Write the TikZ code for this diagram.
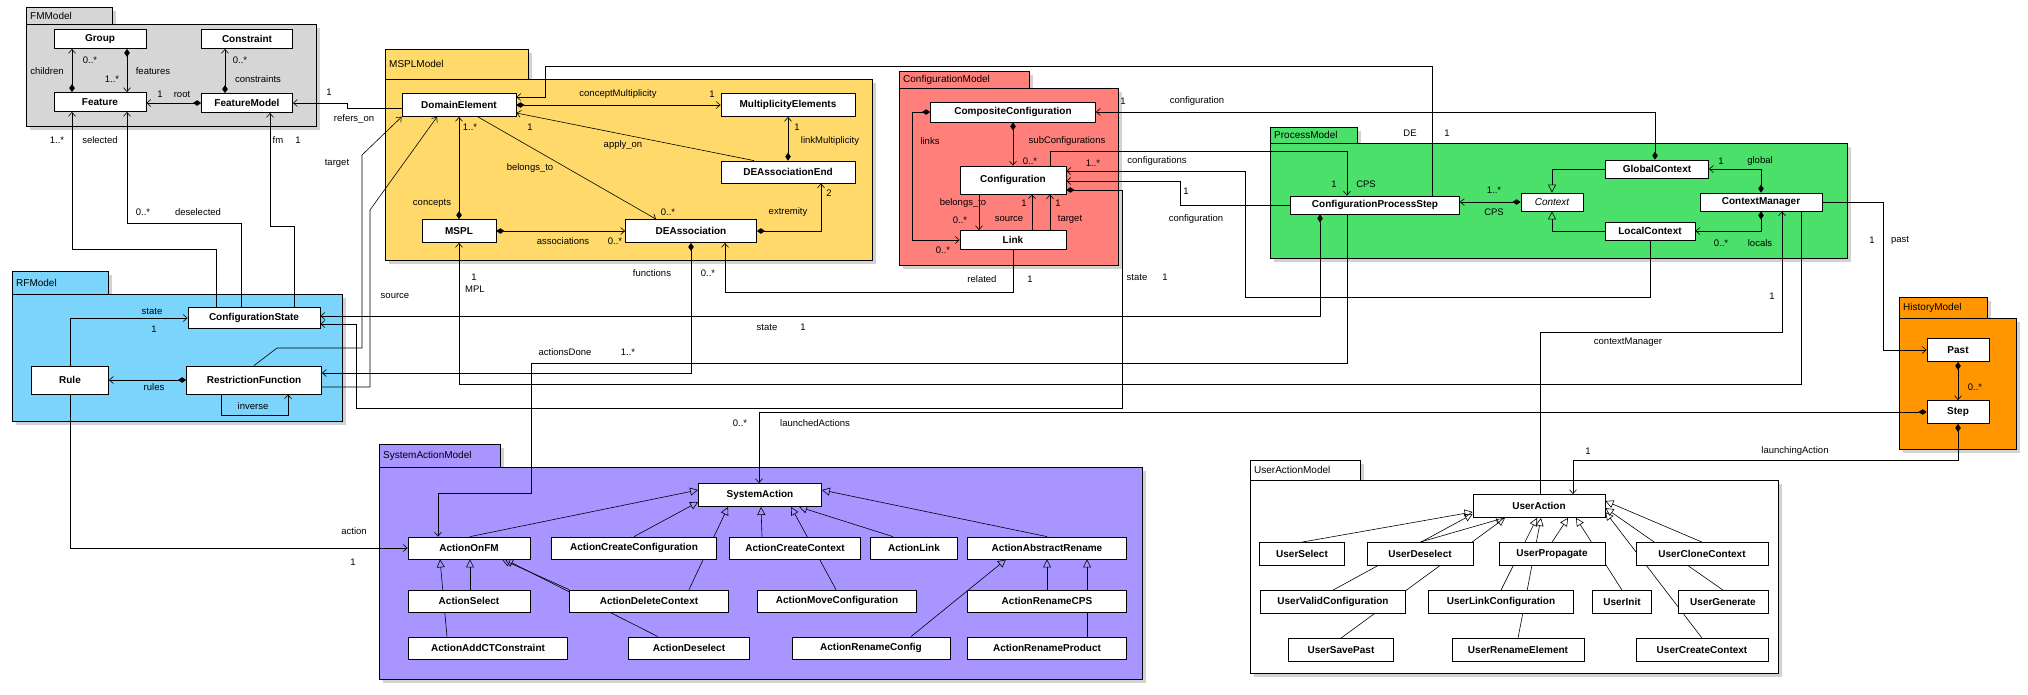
\documentclass[tikz,border=0pt]{standalone}
\usepackage{fontspec}
\setmainfont{Liberation Sans}
\usetikzlibrary{arrows.meta,shadows}
\definecolor{cFM}{HTML}{D6D6D6}
\definecolor{cMS}{HTML}{FFDA6B}
\definecolor{cCM}{HTML}{FF7F7B}
\definecolor{cPM}{HTML}{4BE06A}
\definecolor{cRF}{HTML}{7AD4FC}
\definecolor{cHM}{HTML}{FF9500}
\definecolor{cSA}{HTML}{A895FF}
\definecolor{cUA}{HTML}{FFFFFF}
\pgfdeclarelayer{bgw}\pgfdeclarelayer{pkg}\pgfdeclarelayer{edge}
\pgfsetlayers{bgw,pkg,edge,main}
\newcommand\mkpkg[8]{%
 \draw[pkgst, fill=#2] (#3,#8) rectangle (#7,#4);
 \draw[pkgst, fill=#2] (#3,#4) rectangle (#5,#6);
 \node[tabl, anchor=west] (tab#1) at (#3+3,{(#8+#4)/2}) {#1};}
\begin{document}
\begin{tikzpicture}[x=1pt,y=-1pt,
 pkgst/.style={draw=black, line width=0.8pt, drop shadow={shadow xshift=4pt,shadow yshift=-4pt,opacity=0.35}},
 tabl/.style={font=\fontsize{10}{12}\selectfont, inner sep=1pt},
 cls/.style={draw, fill=white, line width=0.8pt, minimum height=21pt, inner sep=1pt, font=\bfseries\fontsize{10}{12}\selectfont},
 lbl/.style={font=\fontsize{9.5}{11}\selectfont, inner sep=0.5pt},
 ln/.style={line width=0.6pt},
 comp/.style={ln, {Diamond[length=8pt,width=5.5pt]}-{Straight Barb[length=4pt,width=7pt]}},
 asc/.style={ln, -{Straight Barb[length=4pt,width=7pt]}},
 gen/.style={ln, -{Triangle[open,length=8pt,width=8pt]}}]
\useasboundingbox (0,0) rectangle (2028,694);
\begin{pgfonlayer}{bgw}
\fill[white] (0,0) rectangle (2028,694);
\end{pgfonlayer}
\begin{pgfonlayer}{pkg}
\mkpkg{FMModel}{cFM}{26}{24}{316}{126}{112}{7}
\mkpkg{MSPLModel}{cMS}{385}{79}{872}{260}{528}{49}
\mkpkg{ConfigurationModel}{cCM}{899}{88}{1118}{265}{1029}{71}
\mkpkg{ProcessModel}{cPM}{1270}{143}{1847}{258}{1357}{127}
\mkpkg{HistoryModel}{cHM}{1899}{318}{2016}{449}{1987}{297}
\mkpkg{RFModel}{cRF}{12}{294}{342}{421}{108}{271}
\mkpkg{SystemActionModel}{cSA}{379}{467}{1142}{679}{500}{444}
\mkpkg{UserActionModel}{cUA}{1250}{480}{1778}{673}{1360}{460}
\end{pgfonlayer}
% FM
\node[cls,minimum width=92pt,minimum height=19pt] (Group) at (100,39) {Group};
\node[cls,minimum width=91pt,minimum height=19pt] (Constraint) at (247,39) {Constraint};
\node[cls,minimum width=92pt,minimum height=19pt] (Feature) at (100,102) {Feature};
\node[cls,minimum width=91pt,minimum height=19pt] (FeatureModel) at (247,103) {FeatureModel};
% MSPL
\node[cls,minimum width=114pt,minimum height=23pt] (DomainElement) at (459,105) {DomainElement};
\node[cls,minimum width=74pt,minimum height=23pt] (MSPL) at (459,231) {MSPL};
\node[cls,minimum width=131pt,minimum height=23pt] (DEAssociation) at (691,231) {DEAssociation};
\node[cls,minimum width=134pt,minimum height=23pt] (MultiplicityElements) at (788,105) {MultiplicityElements};
\node[cls,minimum width=134pt,minimum height=22pt] (DEAssociationEnd) at (788,172) {DEAssociationEnd};
% Config
\node[cls,minimum width=165pt,minimum height=20pt] (CC) at (1013,112) {CompositeConfiguration};
\node[cls,minimum width=106pt,minimum height=28pt] (Configuration) at (1013,180) {Configuration};
\node[cls,minimum width=106pt,minimum height=19pt] (Link) at (1013,240) {Link};
% Process
\node[cls,minimum width=169pt,minimum height=18pt] (CPS) at (1375,205) {ConfigurationProcessStep};
\node[cls,minimum width=62pt,minimum height=18pt,font=\itshape\fontsize{10}{12}\selectfont] (Context) at (1552,202) {Context};
\node[cls,minimum width=103pt,minimum height=18pt] (GlobalContext) at (1657,169) {GlobalContext};
\node[cls,minimum width=90pt,minimum height=18pt] (LocalContext) at (1650,231) {LocalContext};
\node[cls,minimum width=122pt,minimum height=18pt] (ContextManager) at (1761,202) {ContextManager};
% History
\node[cls,minimum width=62pt,minimum height=23pt] (Past) at (1958,350) {Past};
\node[cls,minimum width=62pt,minimum height=23pt] (Step) at (1958,412) {Step};
% RF
\node[cls,minimum width=132pt,minimum height=21pt] (CS) at (254,318) {ConfigurationState};
\node[cls,minimum width=77pt,minimum height=28pt] (Rule) at (70,380) {Rule};
\node[cls,minimum width=135pt,minimum height=28pt] (RF) at (254,380) {RestrictionFunction};
% SA
\node[cls,minimum width=123pt,minimum height=23pt] (SystemAction) at (760,495) {SystemAction};
\node[cls,minimum width=122pt,minimum height=22pt] (ActionOnFM) at (469,548) {ActionOnFM};
\node[cls,minimum width=165pt,minimum height=22pt] (ActionCreateConfiguration) at (634,548) {ActionCreateConfiguration};
\node[cls,minimum width=131pt,minimum height=22pt] (ActionCreateContext) at (795,548) {ActionCreateContext};
\node[cls,minimum width=87pt,minimum height=22pt] (ActionLink) at (914,548) {ActionLink};
\node[cls,minimum width=159pt,minimum height=22pt] (ActionAbstractRename) at (1047,548) {ActionAbstractRename};
\node[cls,minimum width=122pt,minimum height=22pt] (ActionSelect) at (469,601) {ActionSelect};
\node[cls,minimum width=159pt,minimum height=22pt] (ActionDeleteContext) at (649,601) {ActionDeleteContext};
\node[cls,minimum width=159pt,minimum height=22pt] (ActionMoveConfiguration) at (837,601) {ActionMoveConfiguration};
\node[cls,minimum width=159pt,minimum height=22pt] (ActionRenameCPS) at (1047,601) {ActionRenameCPS};
\node[cls,minimum width=159pt,minimum height=22pt] (ActionAddCTConstraint) at (488,648) {ActionAddCTConstraint};
\node[cls,minimum width=121pt,minimum height=22pt] (ActionDeselect) at (689,648) {ActionDeselect};
\node[cls,minimum width=158pt,minimum height=22pt] (ActionRenameConfig) at (871,648) {ActionRenameConfig};
\node[cls,minimum width=159pt,minimum height=22pt] (ActionRenameProduct) at (1047,648) {ActionRenameProduct};
% UA
\node[cls,minimum width=132pt,minimum height=23pt] (UserAction) at (1539,506) {UserAction};
\node[cls,minimum width=85pt,minimum height=23pt] (UserSelect) at (1302,554) {UserSelect};
\node[cls,minimum width=106pt,minimum height=23pt] (UserDeselect) at (1420,554) {UserDeselect};
\node[cls,minimum width=106pt,minimum height=23pt] (UserPropagate) at (1552,554) {UserPropagate};
\node[cls,minimum width=132pt,minimum height=23pt] (UserCloneContext) at (1702,554) {UserCloneContext};
\node[cls,minimum width=145pt,minimum height=23pt] (UserValidConfiguration) at (1333,602) {UserValidConfiguration};
\node[cls,minimum width=145pt,minimum height=23pt] (UserLinkConfiguration) at (1501,602) {UserLinkConfiguration};
\node[cls,minimum width=59pt,minimum height=23pt] (UserInit) at (1622,602) {UserInit};
\node[cls,minimum width=90pt,minimum height=23pt] (UserGenerate) at (1723,602) {UserGenerate};
\node[cls,minimum width=105pt,minimum height=23pt] (UserSavePast) at (1341,650) {UserSavePast};
\node[cls,minimum width=132pt,minimum height=23pt] (UserRenameElement) at (1518,650) {UserRenameElement};
\node[cls,minimum width=132pt,minimum height=23pt] (UserCreateContext) at (1702,650) {UserCreateContext};

\begin{pgfonlayer}{edge}
% FM
\draw[comp] (Feature.north -| 72,0) -- (Group.south -| 72,0);
\draw[comp] (Group.south -| 127,0) -- (Feature.north -| 127,0);
\draw[comp] (FeatureModel.north -| 225,0) -- (Constraint.south -| 225,0);
\draw[comp] (FeatureModel.west) -- (Feature.east |- FeatureModel.west);
\draw[asc] (DomainElement.west |- 0,108) -- (347,108) -- (347,103) -- (FeatureModel.east);
% MSPL
\draw[comp] (DomainElement.east) -- (MultiplicityElements.west);
\draw[comp] (DEAssociationEnd.north) -- (MultiplicityElements.south);
\draw[asc] (DEAssociationEnd.north -| 754,0) -- (DomainElement.east |- 0,113);
\draw[asc] (DomainElement.south -| 478,0) -- (DEAssociation.north -| 656,0);
\draw[comp] (MSPL.north) -- (DomainElement.south);
\draw[comp] (MSPL.east) -- (DEAssociation.west);
\draw[comp] (DEAssociation.east) -| (DEAssociationEnd.south -| 821,0);
% Config
\draw[comp] (CC.west) -| (912,240) -- (Link.west);
\draw[comp] (CC.south) -- (Configuration.north);
\draw[asc] (Configuration.south -| 979,0) -- (Link.north -| 979,0);
\draw[asc] (Link.north -| 1032,0) -- (Configuration.south -| 1032,0);
\draw[asc] (Link.north -| 1050,0) -- (Configuration.south -| 1050,0);
\draw[asc] (Link.south) |- (725,292) -- (DEAssociation.south -| 725,0);
% Process
\draw[gen] (GlobalContext.west) -| (Context.north);
\draw[gen] (LocalContext.west) -| (Context.south);
\draw[comp] (Context.west) -- (CPS.east |- Context.west);
\draw[comp] (ContextManager.north) |- (GlobalContext.east);
\draw[comp] (ContextManager.south) |- (LocalContext.east);
\draw[asc] (ContextManager.east) -| (1883,350) -- (Past.west);
\draw[comp] (Past.south) -- (Step.north);
\draw[comp] (Step.south) |- (1573,460) -- (UserAction.north -| 1573,0);
\draw[comp] (Step.west) -| (SystemAction.north -| 759,0);
% cross
\draw[asc] (CS.north -| 216,0) |- (72,249) -- (Feature.south -| 72,0);
\draw[asc] (CS.north -| 241,0) |- (127,223) -- (Feature.south -| 127,0);
\draw[asc] (CS.north -| 294,0) |- (270,226) -- (FeatureModel.south -| 270,0);
\draw[asc] (Rule.north) |- (CS.west);
\draw[comp] (RF.west) -- (Rule.east);
\draw[asc] (RF.south -| 221,0) |- (288,415) -- (RF.south -| 288,0);
\draw[asc] (Rule.south) |- (ActionOnFM.west);
\draw[asc] (RF.north) -- (277,348) -- (362,348) -- (362,155) -- (DomainElement.south west);
\draw[asc] (RF.east |- 0,387) -| (370,210) -- (DomainElement.south -| 437,0);
\draw[comp] (DEAssociation.south) |- (RF.east |- 0,373);
\draw[comp] (Configuration.east |- 0,190) -- (1122,190) -- (1122,408) -- (356,408) -- (356,324) -- (CS.east |- 0,324);
\draw[comp] (CPS.south -| 1320,0) |- (CS.east |- 0,316);
\draw[asc] (CPS.south -| 1347,0) |- (531,363) -- (531,493) -- (438,493) -- (ActionOnFM.north -| 438,0);
\draw[asc] (ContextManager.south -| 1801,0) |- (459,384) -- (MSPL.south);
\draw[asc] (UserAction.north -| 1540,0) |- (1782,332) -- (ContextManager.south -| 1782,0);
\draw[asc] (LocalContext.south) |- (1245,297) -- (1245,171) -- (Configuration.east |- 0,171);
\draw[asc] (CPS.west) -| (1180,181) -- (Configuration.east |- 0,181);
\draw[asc] (Configuration.north -| 1050,0) |- (1347,151) -- (CPS.north -| 1347,0);
\draw[comp] (GlobalContext.north -| 1655,0) |- (CC.east);
\draw[asc] (CPS.north -| 1432,0) |- (545,66) -- (545,97) -- (DomainElement.east |- 0,97);
% SA generalizations
\draw[gen] (ActionOnFM.north -| 470,0) -- (SystemAction.west |- 0,490);
\draw[gen] (ActionCreateConfiguration.north) -- (SystemAction.west |- 0,502);
\draw[gen] (ActionDeleteContext.north -| 689,0) -- (SystemAction.south -| 728,0);
\draw[gen] (ActionCreateContext.north -| 762,0) -- (SystemAction.south -| 761,0);
\draw[gen] (ActionMoveConfiguration.north -| 836,0) -- (SystemAction.south -| 791,0);
\draw[gen] (ActionLink.north -| 893,0) -- (SystemAction.south -| 799,0);
\draw[gen] (ActionAbstractRename.north) -- (SystemAction.east |- 0,490);
\draw[gen] (ActionSelect.north -| 470,0) -- (ActionOnFM.south -| 470,0);
\draw[gen] (ActionAddCTConstraint.north -| 447,0) -- (ActionOnFM.south -| 440,0);
\draw[gen] (ActionDeleteContext.north west) -- (ActionOnFM.south -| 502,0);
\draw[gen] (ActionDeselect.north -| 658,0) -- (ActionOnFM.south -| 505,0);
\draw[gen] (ActionRenameConfig.north -| 911,0) -- (ActionAbstractRename.south -| 1006,0);
\draw[gen] (ActionRenameCPS.north) -- (ActionAbstractRename.south);
\draw[gen] (ActionRenameProduct.north -| 1087,0) -- (ActionAbstractRename.south -| 1087,0);
% UA generalizations
\draw[gen] (UserSelect.north) -- (UserAction.west |- 0,512);
\draw[gen] (UserValidConfiguration.north) -- (UserAction.west |- 0,514);
\draw[gen] (UserDeselect.north) -- (UserAction.south -| 1504,0);
\draw[gen] (UserSavePast.north) -- (UserAction.south -| 1505,0);
\draw[gen] (UserLinkConfiguration.north) -- (UserAction.south -| 1537,0);
\draw[gen] (UserRenameElement.north) -- (UserAction.south -| 1541,0);
\draw[gen] (UserPropagate.north) -- (UserAction.south -| 1568,0);
\draw[gen] (UserInit.north) -- (UserAction.south -| 1576,0);
\draw[gen] (UserCloneContext.north) -- (UserAction.east |- 0,501);
\draw[gen] (UserGenerate.north) -- (UserAction.east |- 0,508);
\draw[gen] (UserCreateContext.north) -- (UserAction.east |- 0,512);
\end{pgfonlayer}
% labels
\node[lbl] (l1) at (90,60) {0..*};
\node[lbl] (l2) at (47,71) {children};
\node[lbl] (l3) at (153,71) {features};
\node[lbl] (l4) at (112,79) {1..*};
\node[lbl] (l5) at (240,60) {0..*};
\node[lbl] (l6) at (258,79) {constraints};
\node[lbl] (l7) at (160,94) {1};
\node[lbl] (l8) at (182,94) {root};
\node[lbl] (l9) at (329,92) {1};
\node[lbl] (l10) at (354,119) {refers\_on};
\node[lbl] (l11) at (618,94) {conceptMultiplicity};
\node[lbl] (l12) at (712,94) {1};
\node[lbl] (l13) at (797,127) {1};
\node[lbl] (l14) at (830,141) {linkMultiplicity};
\node[lbl] (l15) at (623,145) {apply\_on};
\node[lbl] (l16) at (530,127) {1};
\node[lbl] (l17) at (530,168) {belongs\_to};
\node[lbl] (l18) at (668,212) {0..*};
\node[lbl] (l19) at (432,203) {concepts};
\node[lbl] (l20) at (470,127) {1..*};
\node[lbl] (l21) at (563,241) {associations};
\node[lbl] (l22) at (615,241) {0..*};
\node[lbl] (l23) at (788,212) {extremity};
\node[lbl] (l24) at (829,193) {2};
\node[lbl] (l25) at (930,141) {links};
\node[lbl] (l26) at (943,250) {0..*};
\node[lbl] (l27) at (1067,141) {subConfigurations};
\node[lbl] (l28) at (1030,161) {0..*};
\node[lbl] (l29) at (963,203) {belongs\_to};
\node[lbl] (l30) at (960,220) {0..*};
\node[lbl] (l31) at (1024,203) {1};
\node[lbl] (l31b) at (1009,219) {source};
\node[lbl] (l32) at (1058,203) {1};
\node[lbl] (l33) at (1070,219) {target};
\node[lbl] (l34) at (982,279) {related};
\node[lbl] (l35) at (1030,279) {1};
\node[lbl] (l36) at (652,273) {functions};
\node[lbl] (l37) at (708,273) {0..*};
\node[lbl] (l38) at (1494,190) {1..*};
\node[lbl] (l39) at (1494,212) {CPS};
\node[lbl] (l40) at (1721,161) {1};
\node[lbl] (l41) at (1760,161) {global};
\node[lbl] (l42) at (1721,243) {0..*};
\node[lbl] (l43) at (1760,243) {locals};
\node[lbl] (l44) at (1872,240) {1};
\node[lbl] (l45) at (1900,240) {past};
\node[lbl] (l46) at (1975,387) {0..*};
\node[lbl] (l47) at (1588,451) {1};
\node[lbl] (l48) at (1795,451) {launchingAction};
\node[lbl] (l49) at (740,423) {0..*};
\node[lbl] (l50) at (815,423) {launchedActions};
\node[lbl] (l51) at (57,140) {1..*};
\node[lbl] (l52) at (100,140) {selected};
\node[lbl] (l53) at (143,212) {0..*};
\node[lbl] (l54) at (198,212) {deselected};
\node[lbl] (l55) at (278,140) {fm};
\node[lbl] (l56) at (298,140) {1};
\node[lbl] (l57) at (152,311) {state};
\node[lbl] (l58) at (154,329) {1};
\node[lbl] (l59) at (154,387) {rules};
\node[lbl] (l60) at (253,406) {inverse};
\node[lbl] (l61) at (354,531) {action};
\node[lbl] (l62) at (353,562) {1};
\node[lbl] (l63) at (337,163) {target};
\node[lbl] (l64) at (395,296) {source};
\node[lbl] (l65) at (1137,277) {state};
\node[lbl] (l66) at (1165,277) {1};
\node[lbl] (l67) at (767,327) {state};
\node[lbl] (l68) at (803,327) {1};
\node[lbl] (l69) at (565,352) {actionsDone};
\node[lbl] (l70) at (628,352) {1..*};
\node[lbl] (l71) at (474,277) {1};
\node[lbl] (l72) at (475,289) {MPL};
\node[lbl] (l73) at (1772,296) {1};
\node[lbl] (l74) at (1628,342) {contextManager};
\node[lbl] (l75) at (1093,163) {1..*};
\node[lbl] (l76) at (1157,161) {configurations};
\node[lbl] (l77) at (1186,191) {1};
\node[lbl] (l78) at (1196,219) {configuration};
\node[lbl] (l79) at (1334,184) {1};
\node[lbl] (l80) at (1366,184) {CPS};
\node[lbl] (l81) at (1123,101) {1};
\node[lbl] (l82) at (1197,101) {configuration};
\node[lbl] (l83) at (1410,133) {DE};
\node[lbl] (l84) at (1447,133) {1};
\end{tikzpicture}
\end{document}
